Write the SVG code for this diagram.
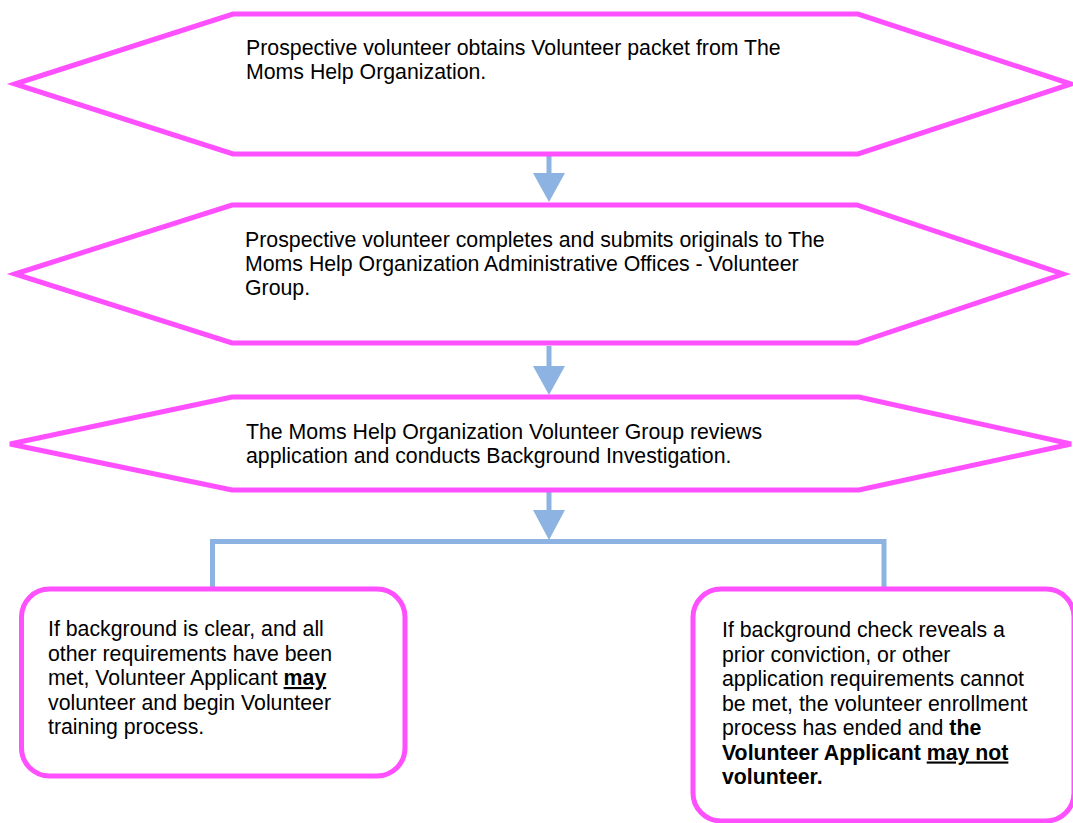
<svg xmlns="http://www.w3.org/2000/svg" width="1073" height="823" viewBox="0 0 1073 823">
<style>
.shape{fill:#fff;stroke:#FF50FF;stroke-width:5;stroke-linejoin:miter}
.t{font-family:"Liberation Sans",Arial,sans-serif;font-size:21.3px;fill:#000}
.b{font-weight:bold}
.u{text-decoration:underline}
.ln{stroke:#8DB3E2;stroke-width:5;fill:none}
.hd{fill:#8DB3E2;stroke:none}
</style>
<rect width="1073" height="823" fill="#fff"/>
<g id="connectors">
<line class="ln" x1="549" y1="156" x2="549" y2="175" stroke-width="6"/>
<polygon class="hd" points="533,173 565,173 549,202"/>
<line class="ln" x1="549" y1="346" x2="549" y2="368" stroke-width="6"/>
<polygon class="hd" points="533,366 565,366 549,395"/>
<line class="ln" x1="549" y1="492" x2="549" y2="512" stroke-width="6"/>
<polygon class="hd" points="533,510 565,510 549,540"/>
<polyline class="ln" points="212.5,589 212.5,541.5 884,541.5 884,589"/>
</g>
<g id="step1">
<polygon class="shape" points="15,84 233,14 858,14 1071,84 858,154 233,154"/>
<text class="t" x="246" y="55">Prospective volunteer obtains Volunteer packet from The</text>
<text class="t" x="246" y="79">Moms Help Organization.</text>
</g>
<g id="step2">
<polygon class="shape" points="15,274 232,205 857,205 1063,274 857,343 232,343"/>
<text class="t" x="245" y="247">Prospective volunteer completes and submits originals to The</text>
<text class="t" x="245" y="271">Moms Help Organization Administrative Offices - Volunteer</text>
<text class="t" x="245" y="295">Group.</text>
</g>
<g id="step3">
<polygon class="shape" points="10,444 232,397 859,397 1071,444 859,490 232,490"/>
<text class="t" x="246" y="439">The Moms Help Organization Volunteer Group reviews</text>
<text class="t" x="246" y="463">application and conducts Background Investigation.</text>
</g>
<g id="clear">
<rect class="shape" x="21.5" y="589" width="383.5" height="187" rx="28" ry="28"/>
<text class="t" x="48" y="636">If background is clear, and all</text>
<text class="t" x="48" y="660.5">other requirements have been</text>
<text class="t" x="48" y="685">met, Volunteer Applicant <tspan class="b u">may</tspan></text>
<text class="t" x="48" y="709.5">volunteer and begin Volunteer</text>
<text class="t" x="48" y="734">training process.</text>
</g>
<g id="notclear">
<rect class="shape" x="693" y="589" width="381" height="232" rx="28" ry="28"/>
<text class="t" x="722" y="637">If background check reveals a</text>
<text class="t" x="722" y="661.5">prior conviction, or other</text>
<text class="t" x="722" y="686">application requirements cannot</text>
<text class="t" x="722" y="710.5">be met, the volunteer enrollment</text>
<text class="t" x="722" y="735">process has ended and <tspan class="b">the</tspan></text>
<text class="t b" x="722" y="759.5">Volunteer Applicant <tspan class="u">may not</tspan></text>
<text class="t b" x="722" y="784">volunteer.</text>
</g>
</svg>
